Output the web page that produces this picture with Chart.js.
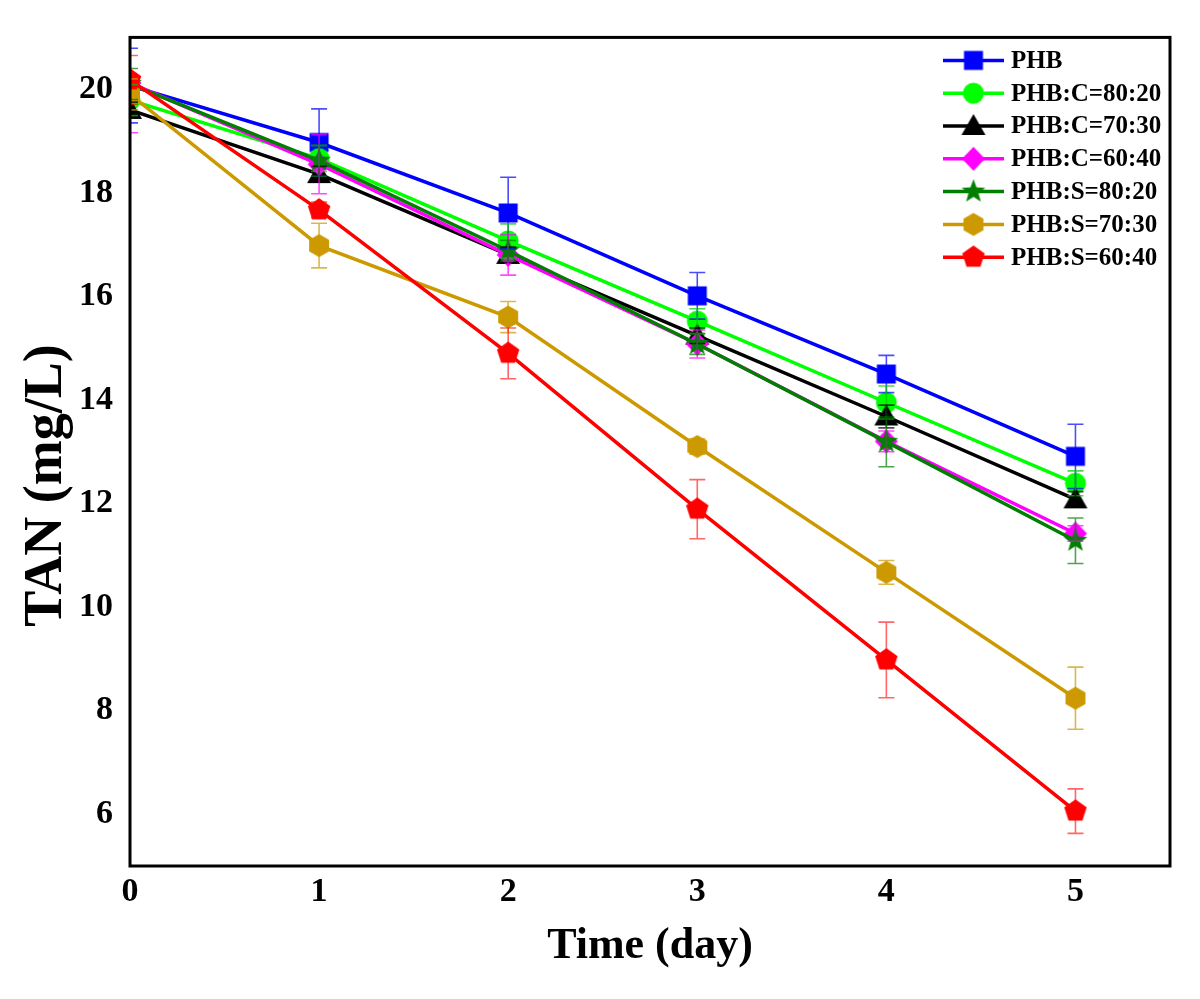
<!DOCTYPE html>
<html>
<head>
<meta charset="utf-8">
<script src="https://cdn.jsdelivr.net/npm/chart.js@4"></script>
<style>
  body { margin: 0; background: #fff; }
  #wrap { width: 1200px; height: 999px; position: relative; }
</style>
</head>
<body>
<div id="wrap"><canvas id="tanChart"></canvas></div>
<script>
// sampling days and tick labels
const days = [0, 1, 2, 3, 4, 5];
const xTicks = [0, 1, 2, 3, 4, 5];
const yTicks = [6, 8, 10, 12, 14, 16, 18, 20];

const seriesNames = ['PHB', 'PHB:C=80:20', 'PHB:C=70:30', 'PHB:C=60:40',
                     'PHB:S=80:20', 'PHB:S=70:30', 'PHB:S=60:40'];

// TAN (mg/L) per series, with error bars
const phb      = [20.07, 18.97, 17.61, 16.01, 14.50, 12.91];
const phbErr   = [0.72, 0.65, 0.69, 0.45, 0.36, 0.62];
const c8020    = [19.79, 18.66, 17.07, 15.52, 13.95, 12.39];
const c8020Err = [0.30, 0.25, 0.33, 0.24, 0.32, 0.24];
const c7030    = [19.60, 18.36, 16.80, 15.24, 13.68, 12.08];
const c7030Err = [0.15, 0.15, 0.15, 0.15, 0.22, 0.15];
const c6040    = [20.12, 18.55, 16.80, 15.08, 13.20, 11.42];
const c6040Err = [0.96, 0.57, 0.39, 0.27, 0.20, 0.15];
const s8020    = [20.10, 18.62, 16.88, 15.08, 13.19, 11.28];
const s8020Err = [0.30, 0.30, 0.20, 0.20, 0.48, 0.44];
const s7030    = [19.90, 16.98, 15.60, 13.10, 10.67, 8.24];
const s7030Err = [0.30, 0.43, 0.30, 0.15, 0.23, 0.60];
const s6040    = [20.18, 17.67, 14.90, 11.89, 8.98, 6.06];
const s6040Err = [0.47, 0.15, 0.49, 0.57, 0.73, 0.43];

const values = [phb, c8020, c7030, c6040, s8020, s7030, s6040];
const errors = [phbErr, c8020Err, c7030Err, c6040Err, s8020Err, s7030Err, s6040Err];
const colors = ['#0000FF', '#00FF00', '#000000', '#FF00FF', '#007F00', '#CC9900', '#FF0000'];
const errColors = ['rgba(0,0,255,0.7)', 'rgba(0,200,0,0.7)', 'rgba(0,0,0,0.7)', 'rgba(255,0,255,0.7)',
                   'rgba(0,127,0,0.7)', 'rgba(204,153,0,0.7)', 'rgba(255,0,0,0.6)'];
const shapes = ['square', 'circle', 'triangle', 'diamond', 'star', 'hexagon', 'pentagon'];

function polygon(ctx, n, r, rot) {
    ctx.beginPath();
    for (let k = 0; k < n; k++) {
        const a = rot + k * 2 * Math.PI / n;
        const px = 15 + r * Math.cos(a), py = 15 + r * Math.sin(a);
        k === 0 ? ctx.moveTo(px, py) : ctx.lineTo(px, py);
    }
    ctx.closePath();
}

// marker images (used for both the points and the legend)
function makeMarker(shape, color) {
    const c = document.createElement('canvas');
    c.width = 30; c.height = 30;
    const g = c.getContext('2d');
    g.fillStyle = color;
    if (shape === 'square') {
        g.beginPath(); g.rect(15 - 9.5, 15 - 9.5, 19, 19);
    } else if (shape === 'circle') {
        g.beginPath(); g.arc(15, 15, 10.5, 0, Math.PI * 2);
    } else if (shape === 'triangle') {
        g.beginPath(); g.moveTo(15, 3); g.lineTo(27, 24); g.lineTo(3, 24); g.closePath();
    } else if (shape === 'diamond') {
        g.beginPath(); g.moveTo(15, 3); g.lineTo(26.5, 15); g.lineTo(15, 27); g.lineTo(3.5, 15); g.closePath();
    } else if (shape === 'star') {
        g.beginPath();
        for (let k = 0; k < 10; k++) {
            const r = k % 2 === 0 ? 12.5 : 5.2;
            const a = -Math.PI / 2 + k * Math.PI / 5;
            const px = 15 + r * Math.cos(a), py = 15 + r * Math.sin(a);
            k === 0 ? g.moveTo(px, py) : g.lineTo(px, py);
        }
        g.closePath();
    } else if (shape === 'hexagon') {
        polygon(g, 6, 11.5, -Math.PI / 2);
    } else if (shape === 'pentagon') {
        polygon(g, 5, 11.8, -Math.PI / 2);
    }
    g.fill();
    return c;
}

const markers = shapes.map((s, i) => makeMarker(s, colors[i]));

const datasets = seriesNames.map((name, i) => ({
    label: name,
    data: days.map((d, j) => ({ x: d, y: values[i][j] })),
    borderColor: colors[i],
    backgroundColor: colors[i],
    borderWidth: 3.5,
    pointStyle: markers[i],
    pointRadius: 12,
    tension: 0,
    clip: 0,
    order: seriesNames.length - i
}));

const errorBars = {
    id: 'errorBars',
    afterDatasetsDraw(chart) {
        const { ctx, chartArea: a, scales: { x, y } } = chart;
        ctx.save();
        ctx.beginPath();
        ctx.rect(a.left, a.top, a.right - a.left, a.bottom - a.top);
        ctx.clip();
        ctx.lineWidth = 1.6;
        values.forEach((vals, i) => {
            ctx.strokeStyle = errColors[i];
            vals.forEach((v, j) => {
                const px = x.getPixelForValue(days[j]);
                const top = y.getPixelForValue(v + errors[i][j]);
                const bot = y.getPixelForValue(v - errors[i][j]);
                ctx.beginPath();
                ctx.moveTo(px, top); ctx.lineTo(px, bot);
                ctx.moveTo(px - 8, top); ctx.lineTo(px + 8, top);
                ctx.moveTo(px - 8, bot); ctx.lineTo(px + 8, bot);
                ctx.stroke();
            });
        });
        ctx.restore();
    }
};

const frameAndLegend = {
    id: 'frameAndLegend',
    afterDraw(chart) {
        const { ctx, chartArea: a } = chart;
        ctx.save();
        ctx.lineWidth = 3;
        ctx.strokeStyle = '#000';
        ctx.strokeRect(a.left, a.top, a.right - a.left, a.bottom - a.top);

        // legend in the upper right corner
        const x0 = a.right - 227, y0 = a.top + 23, step = 32.8;
        ctx.font = 'bold 25px "Liberation Serif", "Times New Roman", serif';
        ctx.textBaseline = 'middle';
        seriesNames.forEach((name, i) => {
            const yy = y0 + i * step;
            ctx.strokeStyle = colors[i];
            ctx.lineWidth = 3.5;
            ctx.beginPath();
            ctx.moveTo(x0, yy); ctx.lineTo(x0 + 61, yy);
            ctx.stroke();
            ctx.drawImage(markers[i], x0 + 30.5 - 15, yy - 15);
            ctx.fillStyle = '#000';
            ctx.fillText(name, x0 + 68, yy + 1);
        });
        ctx.restore();
    }
};

const serif = '"Liberation Serif", "Times New Roman", serif';

new Chart(document.getElementById('tanChart').getContext('2d'), {
    type: 'line',
    data: { datasets: datasets },
    options: {
        responsive: true,
        maintainAspectRatio: false,
        animation: false,
        layout: { padding: { top: 31, right: 30, left: 0, bottom: 0 } },
        plugins: { legend: { display: false }, tooltip: { enabled: false } },
        scales: {
            x: {
                type: 'linear',
                min: 0,
                max: 5.5,
                afterBuildTicks: s => { s.ticks = xTicks.map(v => ({ value: v })); },
                afterFit: s => { s.height = 133; },
                grid: { display: false, drawTicks: false },
                border: { display: false },
                ticks: {
                    padding: 6,
                    color: '#000',
                    font: { family: serif, size: 34, weight: 'bold' }
                },
                title: {
                    display: true,
                    text: 'Time (day)',
                    color: '#000',
                    padding: { bottom: 26 },
                    font: { family: serif, size: 44, weight: 'bold' }
                }
            },
            y: {
                min: 5,
                max: 21,
                afterBuildTicks: s => { s.ticks = yTicks.map(v => ({ value: v })); },
                afterFit: s => { s.width = 130; },
                grid: { display: false, drawTicks: false },
                border: { display: false },
                ticks: {
                    padding: 17,
                    color: '#000',
                    font: { family: serif, size: 34, weight: 'bold' }
                },
                title: {
                    display: true,
                    // trailing spaces push the rotated title a little downwards, as in the original
                    text: 'TAN (mg/L)\u00a0\u00a0\u00a0\u00a0\u00a0',
                    color: '#000',
                    padding: { top: 15 },
                    font: { family: serif, size: 54, weight: 'bold' }
                }
            }
        }
    },
    plugins: [errorBars, frameAndLegend]
});
</script>
</body>
</html>
